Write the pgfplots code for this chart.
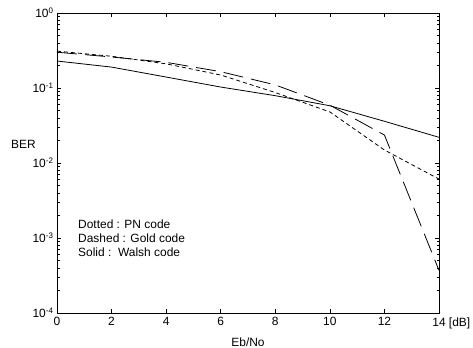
\documentclass[border=0pt]{standalone}
\usepackage{fontspec}
\setmainfont{Liberation Sans}
\usepackage{pgfplots}
\pgfplotsset{compat=1.18}
\begin{document}
\begin{tikzpicture}
\begin{axis}[
  scale only axis, width=382bp, height=300bp,
  xmin=0, xmax=14, ymode=log, ymin=1e-4, ymax=1,
  xtick={0,2,4,6,8,10,12,14},
  xticklabels={0,2,4,6,8,10,12,14\rlap{ [dB]}},
  ytick={1e-4,1e-3,1e-2,1e-1,1},
  yticklabels={10\textsuperscript{-4},10\textsuperscript{-3},10\textsuperscript{-2},10\textsuperscript{-1},10\textsuperscript{0}},
  minor ytick={2e-4,3e-4,4e-4,5e-4,6e-4,7e-4,8e-4,9e-4,2e-3,3e-3,4e-3,5e-3,6e-3,7e-3,8e-3,9e-3,2e-2,3e-2,4e-2,5e-2,6e-2,7e-2,8e-2,9e-2,2e-1,3e-1,4e-1,5e-1,6e-1,7e-1,8e-1,9e-1},
  tick align=inside, major tick length=4bp, minor tick length=2.5bp,
  tick style={black, line width=0.5pt},
  axis line style={black, line width=0.6pt},
  ticklabel style={font=\fontsize{12}{14}\selectfont},
  xticklabel style={yshift=-1bp},
  xlabel={Eb/No}, ylabel={BER},
  label style={font=\fontsize{12}{14}\selectfont},
  xlabel style={at={(rel axis cs:0.5,0)}, anchor=center, yshift=-29bp},
  ylabel style={rotate=-90, at={(rel axis cs:-0.0877,0.563)}, anchor=center},
  clip=false,
]
% Dotted : PN code
\addplot[black, line width=0.8pt, dash pattern=on 4bp off 3bp] coordinates {
 (0,0.31) (2,0.265) (4,0.21) (6,0.149) (8,0.087) (10,0.048) (12,0.0149) (14,0.0061)};
% Dashed : Gold code
\addplot[black, line width=0.8pt, dash pattern=on 20bp off 8bp] coordinates {
 (0,0.30) (2,0.259) (4,0.22) (6,0.165) (8,0.11) (10,0.059) (12,0.0236) (14,0.00037)};
% Solid : Walsh code
\addplot[black, line width=0.8pt] coordinates {
 (0,0.229) (2,0.19) (4,0.14) (6,0.103) (8,0.079) (10,0.058) (12,0.036) (14,0.022)};
\node[anchor=north west, align=left, inner sep=0pt, font=\fontsize{12}{14}\selectfont]
  at (rel axis cs:0.055,0.31) {Dotted : PN code\\Dashed : Gold code\\Solid :\ \ Walsh code};
\coordinate (bl) at (rel axis cs:0,0);
\coordinate (tr) at (rel axis cs:1,1);
\end{axis}
\pgfresetboundingbox
\path ([shift={(-57bp,-35bp)}]bl) rectangle ([shift={(34bp,13bp)}]tr);
\end{tikzpicture}
\end{document}
